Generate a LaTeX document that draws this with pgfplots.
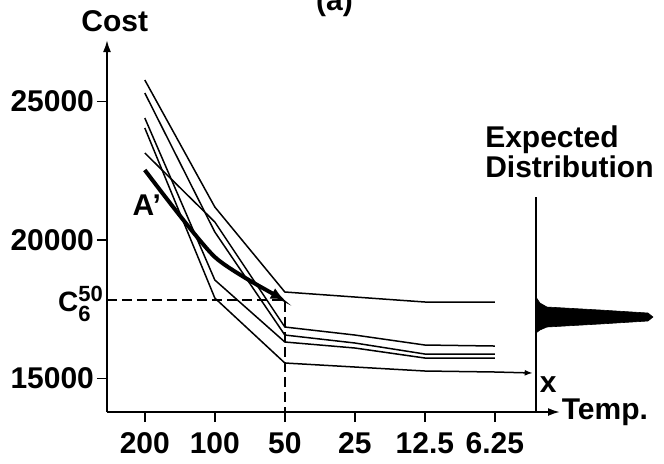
\documentclass[border=0pt]{standalone}
\usepackage{fontspec}
\setmainfont{Liberation Sans}
\usepackage{amsmath}
\usepackage{pgfplots}
\pgfplotsset{compat=1.18}
\usetikzlibrary{arrows.meta}

\newcommand{\lbl}{\fontsize{15}{18}\selectfont\bfseries}

\begin{document}
\begin{tikzpicture}
\begin{axis}[
    name=ax,
    scale only axis,
    width=226.5pt, height=186pt,
    xmin=-0.54, xmax=5.93,
    ymin=13791, ymax=27220,
    axis lines=left,
    axis line style={line width=1pt, -{Latex[length=6pt,width=4pt]}},
    tick align=outside,
    major tick length=5pt,
    tick style={line width=0.8pt, black},
    xtick={0,1,2,3,4,5},
    xticklabels={200,100,50,25,12.5,6.25},
    ytick={15000,20000,25000},
    scaled y ticks=false,
    /pgf/number format/assume math mode=true,
    /pgf/number format/1000 sep={},
    /pgf/number format/fixed,
    ticklabel style={font=\lbl},
    xticklabel style={yshift=-1.5pt},
    yticklabel style={xshift=2pt},
    clip=false,
]
% annealing runs: cost at each temperature
\addplot[black, line width=0.75pt] coordinates {
    (0,25776) (1,21191) (2,18123) (3,17942) (4,17762) (5,17762)};
\addplot[black, line width=0.75pt] coordinates {
    (0,23141) (1,20650) (2,16859) (3,16570) (4,16209) (5,16173)};
\addplot[black, line width=0.75pt] coordinates {
    (0,25307) (1,20289) (2,16570) (3,16282) (4,15884) (5,15884)};
\addplot[black, line width=0.75pt] coordinates {
    (0,24404) (1,18556) (2,16318) (3,16101) (4,15740) (5,15740)};
\addplot[black, line width=0.75pt, -{Latex[length=4pt,width=3pt]}] coordinates {
    (0,24043) (1,17906) (2,15560) (3,15415) (4,15271) (5,15235) (5.54,15199)};
% A' (thick, with arrow)
\addplot[black, line width=2pt, smooth, tension=0.4, -{Latex[length=7pt,width=6pt]}] coordinates {
    (0,22527) (1,19386) (2,17834)};
% dashed guides
\addplot[black, line width=0.8pt, dash pattern=on 5pt off 2.5pt] coordinates {
    (-0.54,17834) (2,17834) (2,13791)};
% expected distribution
\addplot[black, line width=0.8pt] coordinates {(5.586,13791) (5.586,21552)};
\addplot[black, fill=black, line width=0.3pt] coordinates {
    (5.586,17942) (5.643,17726) (5.743,17581) (6.5,17473) (7.186,17365)
    (7.257,17220) (7.186,17076) (6.5,16968) (5.743,16859) (5.643,16751)
    (5.586,16643)} -- cycle;

\node[font=\lbl] at (axis cs:-0.43,27906) {Cost};
\node[font=\lbl, anchor=west, inner sep=0pt] at (axis cs:5.95,13791) {Temp.};
\node[font=\lbl] at (axis cs:5.76,14765) {x};
\node[font=\lbl] at (axis cs:0.03,21264) {A'};
\node[font=\lbl, anchor=base west, inner sep=0pt] at (axis cs:4.857,23357) {Expected};
\node[font=\lbl, anchor=base west, inner sep=0pt] at (axis cs:4.857,22274) {Distribution};
\node[font=\lbl, anchor=east, inner sep=0pt] at (axis cs:-0.58,17700)
    {\fontsize{14}{16}\selectfont C$^{\text{\fontsize{11}{12}\selectfont 50}}_{\text{\fontsize{11}{12}\selectfont 6}}$};
\node[font=\lbl, anchor=base] at (axis cs:2.71,28303) {(a)};
\end{axis}
\pgfresetboundingbox
\path ([xshift=-53.5pt,yshift=-25.5pt]ax.south west) rectangle ([xshift=278.5pt,yshift=206pt]ax.south west);
\end{tikzpicture}
\end{document}
